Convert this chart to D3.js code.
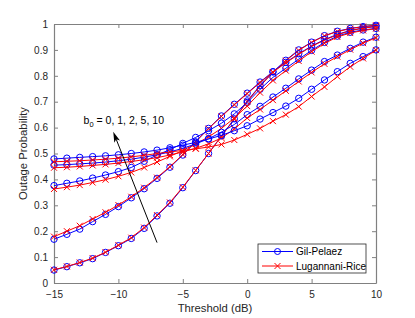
<!DOCTYPE html>
<html>
<head>
<meta charset="utf-8">
<script src="https://cdn.jsdelivr.net/npm/d3@7"></script>
<style>
  body { margin: 0; background: #fff; }
  svg { font-family: "Liberation Sans", Arial, sans-serif; }
</style>
</head>
<body>
<div id="wrapper"></div>
<script>
const thresholds = d3.range(-15, 11)
const xTicks = [-15, -10, -5, 0, 5, 10]
const yTicks = [0, 0.1, 0.2, 0.3, 0.4, 0.5, 0.6, 0.7, 0.8, 0.9, 1]

// Gil-Pelaez (blue circles), one row per b0
const gilPelaez = [
  [0.050, 0.063, 0.078, 0.094, 0.118, 0.144, 0.172, 0.211, 0.259, 0.308, 0.368, 0.434, 0.500, 0.568, 0.634, 0.703, 0.762, 0.815, 0.860, 0.900, 0.930, 0.955, 0.972, 0.983, 0.990, 0.995],
  [0.169, 0.188, 0.208, 0.237, 0.265, 0.295, 0.329, 0.364, 0.404, 0.447, 0.494, 0.545, 0.597, 0.645, 0.690, 0.733, 0.776, 0.816, 0.852, 0.885, 0.915, 0.940, 0.960, 0.975, 0.985, 0.991],
  [0.376, 0.385, 0.394, 0.405, 0.417, 0.430, 0.446, 0.470, 0.494, 0.515, 0.539, 0.562, 0.588, 0.617, 0.653, 0.697, 0.748, 0.794, 0.829, 0.864, 0.898, 0.929, 0.953, 0.968, 0.977, 0.983],
  [0.455, 0.457, 0.460, 0.463, 0.467, 0.472, 0.478, 0.486, 0.495, 0.506, 0.520, 0.537, 0.557, 0.582, 0.612, 0.650, 0.682, 0.718, 0.752, 0.788, 0.822, 0.855, 0.880, 0.906, 0.930, 0.949],
  [0.479, 0.482, 0.485, 0.488, 0.491, 0.495, 0.500, 0.506, 0.513, 0.522, 0.532, 0.543, 0.556, 0.570, 0.588, 0.607, 0.633, 0.658, 0.683, 0.713, 0.748, 0.784, 0.816, 0.848, 0.874, 0.900]
]

// Lugannani-Rice (red crosses), one row per b0
const lugannaniRice = [
  [0.051, 0.064, 0.079, 0.096, 0.119, 0.146, 0.175, 0.214, 0.262, 0.311, 0.370, 0.435, 0.500, 0.567, 0.632, 0.700, 0.760, 0.813, 0.858, 0.898, 0.929, 0.954, 0.971, 0.982, 0.990, 0.995],
  [0.179, 0.200, 0.221, 0.247, 0.273, 0.301, 0.333, 0.368, 0.407, 0.449, 0.496, 0.546, 0.596, 0.643, 0.688, 0.731, 0.774, 0.814, 0.850, 0.883, 0.913, 0.938, 0.958, 0.974, 0.984, 0.990],
  [0.363, 0.370, 0.378, 0.388, 0.399, 0.412, 0.427, 0.446, 0.467, 0.489, 0.512, 0.537, 0.564, 0.597, 0.637, 0.683, 0.735, 0.782, 0.820, 0.857, 0.893, 0.925, 0.950, 0.965, 0.975, 0.982],
  [0.445, 0.447, 0.450, 0.454, 0.458, 0.463, 0.469, 0.476, 0.484, 0.494, 0.506, 0.520, 0.537, 0.560, 0.595, 0.637, 0.670, 0.706, 0.742, 0.778, 0.813, 0.846, 0.874, 0.901, 0.926, 0.947],
  [0.468, 0.470, 0.472, 0.475, 0.478, 0.482, 0.487, 0.493, 0.500, 0.506, 0.512, 0.518, 0.525, 0.535, 0.552, 0.574, 0.597, 0.625, 0.650, 0.681, 0.720, 0.757, 0.797, 0.835, 0.867, 0.899]
]

const legendLabels = ["Gil-Pelaez", "Lugannani-Rice"]
const annotation = { text: "0, 1, 2, 5, 10", x: -12.7, y: 0.612 }
const arrow = { from: [-7, 0.156], to: [-10.4, 0.584] }

const dimensions = {
  width: 415,
  height: 318,
  margin: { top: 24, right: 39, bottom: 35, left: 54 }
}
dimensions.boundedWidth = dimensions.width - dimensions.margin.left - dimensions.margin.right
dimensions.boundedHeight = dimensions.height - dimensions.margin.top - dimensions.margin.bottom

const wrapper = d3.select("#wrapper")
  .append("svg")
  .attr("width", dimensions.width)
  .attr("height", dimensions.height)

const bounds = wrapper.append("g")
  .attr("transform", `translate(${dimensions.margin.left},${dimensions.margin.top})`)

const xScale = d3.scaleLinear()
  .domain([-15, 10])
  .range([0, dimensions.boundedWidth])

const yScale = d3.scaleLinear()
  .domain([0, 1])
  .range([dimensions.boundedHeight, 0])

const axisColor = "#808080"
const textColor = "#262626"

// axes, MATLAB box style with inward ticks
const styleAxis = g => {
  g.select(".domain").attr("stroke", axisColor).attr("stroke-width", 1.2)
  g.selectAll(".tick line").attr("stroke", axisColor)
  g.selectAll(".tick text").attr("fill", textColor).style("font-size", "10px")
    .style("font-family", "Liberation Sans, Arial, sans-serif")
}

bounds.append("g")
  .attr("transform", `translate(0,${dimensions.boundedHeight})`)
  .call(d3.axisBottom(xScale).tickValues(xTicks).tickSize(-4).tickSizeOuter(0).tickPadding(8))
  .call(styleAxis)
bounds.append("g")
  .call(d3.axisTop(xScale).tickValues(xTicks).tickSize(-4).tickSizeOuter(0).tickFormat(""))
  .call(styleAxis)
bounds.append("g")
  .call(d3.axisLeft(yScale).tickValues(yTicks).tickSize(-4).tickSizeOuter(0).tickPadding(6)
    .tickFormat(d => d3.format("")(+d.toFixed(1))))
  .call(styleAxis)
bounds.append("g")
  .attr("transform", `translate(${dimensions.boundedWidth},0)`)
  .call(d3.axisRight(yScale).tickValues(yTicks).tickSize(-4).tickSizeOuter(0).tickFormat(""))
  .call(styleAxis)

// series
const line = d3.line()
  .x((d, i) => xScale(thresholds[i]))
  .y(d => yScale(d))

const crossPath = s => `M${-s},${-s}L${s},${s}M${-s},${s}L${s},${-s}`

const series = bounds.append("g")
gilPelaez.forEach((values, k) => {
  const lr = lugannaniRice[k]

  series.append("path")
    .attr("d", line(values))
    .attr("fill", "none")
    .attr("stroke", "#0000ff")
    .attr("stroke-width", 1)
  series.selectAll(null)
    .data(values)
    .join("circle")
    .attr("cx", (d, i) => xScale(thresholds[i]))
    .attr("cy", d => yScale(d))
    .attr("r", 3.2)
    .attr("fill", "none")
    .attr("stroke", "#0000ff")
    .attr("stroke-width", 1)

  series.append("path")
    .attr("d", line(lr))
    .attr("fill", "none")
    .attr("stroke", "#ff0000")
    .attr("stroke-width", 1)
  series.selectAll(null)
    .data(lr)
    .join("path")
    .attr("transform", (d, i) => `translate(${xScale(thresholds[i])},${yScale(d)})`)
    .attr("d", crossPath(3))
    .attr("stroke", "#ff0000")
    .attr("stroke-width", 1)
})

// annotation arrow
const ax1 = xScale(arrow.from[0]), ay1 = yScale(arrow.from[1])
const ax2 = xScale(arrow.to[0]), ay2 = yScale(arrow.to[1])
const ang = Math.atan2(ay2 - ay1, ax2 - ax1)
bounds.append("line")
  .attr("x1", ax1).attr("y1", ay1)
  .attr("x2", ax2 - 8 * Math.cos(ang)).attr("y2", ay2 - 8 * Math.sin(ang))
  .attr("stroke", "#000")
  .attr("stroke-width", 1)
const head = d3.path()
head.moveTo(ax2, ay2)
head.lineTo(ax2 - 11 * Math.cos(ang - 0.28), ay2 - 11 * Math.sin(ang - 0.28))
head.lineTo(ax2 - 8 * Math.cos(ang), ay2 - 8 * Math.sin(ang))
head.lineTo(ax2 - 11 * Math.cos(ang + 0.28), ay2 - 11 * Math.sin(ang + 0.28))
head.closePath()
bounds.append("path").attr("d", head.toString()).attr("fill", "#000")

const label = bounds.append("text")
  .attr("x", xScale(annotation.x))
  .attr("y", yScale(annotation.y))
  .attr("fill", "#000")
  .style("font-size", "10.5px")
label.append("tspan").text("b")
label.append("tspan").attr("dy", 3).style("font-size", "7.5px").text("0")
label.append("tspan").attr("dy", -3).text(" = " + annotation.text)

// legend
const legend = bounds.append("g")
  .attr("transform", `translate(${dimensions.boundedWidth - 118},${dimensions.boundedHeight - 39})`)
legend.append("rect")
  .attr("width", 108).attr("height", 29)
  .attr("fill", "#fff")
  .attr("stroke", "#262626")
  .attr("stroke-width", 0.8)
legendLabels.forEach((name, i) => {
  const color = i === 0 ? "#0000ff" : "#ff0000"
  const g = legend.append("g").attr("transform", `translate(0,${7.5 + i * 14.5})`)
  g.append("line").attr("x1", 4).attr("x2", 35).attr("stroke", color).attr("stroke-width", 1)
  if (i === 0) {
    g.append("circle").attr("cx", 19.5).attr("r", 3).attr("fill", "none").attr("stroke", color)
  } else {
    g.append("path").attr("transform", "translate(19.5,0)").attr("d", crossPath(3)).attr("stroke", color)
  }
  g.append("text").attr("x", 38).attr("dy", "0.35em").attr("fill", "#000")
    .style("font-size", "10px").text(name)
})

// axis labels
wrapper.append("text")
  .attr("x", dimensions.margin.left + dimensions.boundedWidth / 2)
  .attr("y", 312)
  .attr("text-anchor", "middle")
  .attr("fill", textColor)
  .style("font-size", "11.3px")
  .text("Threshold (dB)")

wrapper.append("text")
  .attr("transform", `translate(27,${dimensions.margin.top + dimensions.boundedHeight / 2}) rotate(-90)`)
  .attr("text-anchor", "middle")
  .attr("fill", textColor)
  .style("font-size", "11.3px")
  .text("Outage Probability")
</script>
</body>
</html>
